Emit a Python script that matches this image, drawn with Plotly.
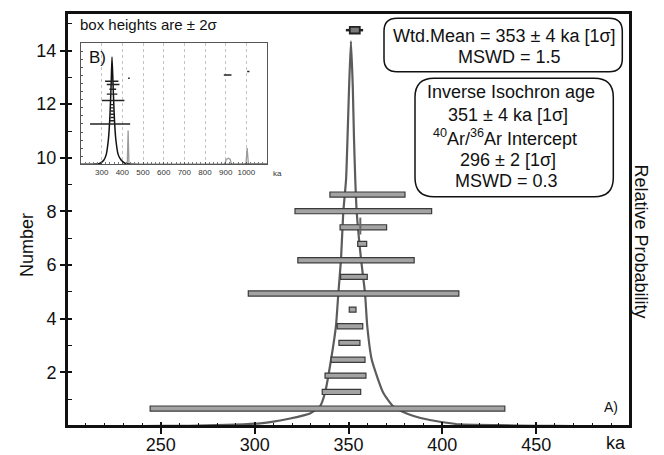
import plotly.graph_objects as go

# ---------------- data ----------------
# main panel: age boxes (ka), lower/upper ends and rank position
box_lo = [244.3, 336.0, 337.5, 340.7, 344.9, 344.0, 350.4, 296.6, 345.8, 323.0, 354.9, 345.5, 321.5, 340.1]
box_hi = [433.3, 356.5, 359.3, 358.8, 356.1, 357.6, 354.0, 408.8, 360.0, 385.0, 359.7, 370.3, 394.3, 380.1]
box_y = [0.65, 1.27, 1.88, 2.47, 3.10, 3.72, 4.34, 4.94, 5.56, 6.18, 6.79, 7.41, 8.01, 8.63]

# weighted mean marker (box + whiskers)
wm_box = [350.7, 356.0]
wm_whisk = [348.6, 357.8]
wm_y = 14.76

# small vertical mark near box 12
mark_x = [356.3, 356.3]
mark_y = [7.14, 7.77]

# relative probability curve
curve_x = [200, 240, 265, 285, 302.9, 310, 318.9, 329.5, 334.8, 337.5, 340.7, 343.3, 344.6, 346.0,
           347.2, 348.7, 349.5, 350.3, 351.3, 352.3, 352.9, 353.6, 354.4, 356.7, 358.8, 360.0,
           362.4, 368.5, 373.9, 381.0, 391.6, 402.3, 409, 430, 450, 470, 500]
curve_y = [0.0, 0.0, 0.01, 0.04, 0.10, 0.16, 0.28, 0.47, 0.73, 1.24, 2.47, 3.72, 4.96, 6.21,
           7.95, 9.19, 10.8, 12.6, 14.35, 12.6, 10.8, 9.19, 7.95, 6.21, 4.96, 3.72,
           2.47, 1.24, 0.73, 0.47, 0.25, 0.12, 0.06, 0.03, 0.01, 0.0, 0.0]

x_ticks = [250, 300, 350, 400, 450]
y_ticks = [2, 4, 6, 8, 10, 12, 14]

# inset B
in_lo = [243.7, 300.5, 324.8, 337.6, 324.8, 316.5, 340, 342, 341, 343, 342, 344]
in_hi = [437.9, 410.0, 376.0, 370.0, 386.0, 381.0, 362, 361, 360, 359, 358, 357]
in_y = [5.0, 7.9, 8.7, 9.3, 9.9, 10.3, 5.4, 5.8, 6.2, 6.6, 7.0, 7.4]
out_lo = [428, 891, 1004]
out_hi = [436, 928, 1015]
out_y = [10.66, 11.07, 11.5]
in_curve_x = [200, 250, 290, 310, 322, 333, 340, 346, 350, 355, 361, 368, 380, 395, 415, 450, 1100]
in_curve_y = [0, 0, 0.1, 0.5, 1.2, 3.2, 6.0, 10.0, 13.3, 10.0, 6.0, 3.2, 1.2, 0.5, 0.1, 0, 0]
in_gray_x = [424, 428, 432, None, 895, 903, 913, 922, 928, None, 998, 1004, 1010]
in_gray_y = [0, 4.2, 0, None, 0, 0.6, 0.75, 0.6, 0, None, 0, 2.0, 0]
in_ticks = [300, 400, 500, 600, 700, 800, 900, 1000]

FONT = "Liberation Sans, Arial, sans-serif"

# ---------------- geometry helpers (pixels -> paper) ----------------
L, R, T, B = 67, 34, 13, 29
W, H = 664, 455
PW, PH = W - L - R, H - T - B


def px(x):
    return (x - L) / PW


def py(y):
    return (H - B - y) / PH


def rrect(x0, y0, x1, y1, r):
    pts = [
        ("M", x0 + r, y0), ("L", x1 - r, y0), ("Q", x1, y0, x1, y0 + r),
        ("L", x1, y1 - r), ("Q", x1, y1, x1 - r, y1), ("L", x0 + r, y1),
        ("Q", x0, y1, x0, y1 - r), ("L", x0, y0 + r), ("Q", x0, y0, x0 + r, y0),
    ]
    s = ""
    for p in pts:
        cmd = p[0]
        coords = p[1:]
        parts = []
        for i in range(0, len(coords), 2):
            parts.append(f"{px(coords[i]):.5f},{py(coords[i+1]):.5f}")
        s += cmd + " " + " ".join(parts) + " "
    return s + "Z"


fig = go.Figure()

# curve on base axes (drawn below the boxes)
fig.add_trace(go.Scatter(x=curve_x, y=curve_y, mode="lines",
                         line=dict(color="#5c5c5c", width=2.2, shape="spline", smoothing=0.5),
                         xaxis="x", yaxis="y", showlegend=False, hoverinfo="skip"))

# boxes on overlay axes (on top)
fig.add_trace(go.Bar(orientation="h", y=box_y, base=box_lo,
                     x=[h - l for l, h in zip(box_lo, box_hi)], width=0.19,
                     marker=dict(color="#a3a3a3", line=dict(color="#3a3a3a", width=1.2)),
                     xaxis="x3", yaxis="y3", showlegend=False, hoverinfo="skip"))

# weighted mean
whisk_x = [wm_whisk[0], wm_box[0], None, wm_box[1], wm_whisk[1]]
whisk_y = [wm_y, wm_y, None, wm_y, wm_y]
fig.add_trace(go.Scatter(x=whisk_x, y=whisk_y, mode="lines", line=dict(color="#222", width=2.5),
                         xaxis="x3", yaxis="y3", showlegend=False, hoverinfo="skip"))
fig.add_trace(go.Bar(orientation="h", y=[wm_y], base=[wm_box[0]], x=[wm_box[1] - wm_box[0]], width=0.25,
                     marker=dict(color="#7a7a7a", line=dict(color="#222", width=1.8)),
                     xaxis="x3", yaxis="y3", showlegend=False, hoverinfo="skip"))
fig.add_trace(go.Scatter(x=mark_x, y=mark_y, mode="lines", line=dict(color="#666", width=2),
                         xaxis="x3", yaxis="y3", showlegend=False, hoverinfo="skip"))

# inset
fig.add_trace(go.Scatter(x=in_gray_x, y=in_gray_y, mode="lines", line=dict(color="#9a9a9a", width=1.3),
                         xaxis="x2", yaxis="y2", showlegend=False, hoverinfo="skip"))
fig.add_trace(go.Scatter(x=in_curve_x, y=in_curve_y, mode="lines",
                         line=dict(color="#111", width=1.5, shape="spline", smoothing=0.6),
                         xaxis="x2", yaxis="y2", showlegend=False, hoverinfo="skip"))
seg_x, seg_y = [], []
for l, h, y in zip(in_lo + out_lo, in_hi + out_hi, in_y + out_y):
    seg_x += [l, h, None]
    seg_y += [y, y, None]
fig.add_trace(go.Scatter(x=seg_x, y=seg_y, mode="lines", line=dict(color="#222", width=1.4),
                         xaxis="x2", yaxis="y2", showlegend=False, hoverinfo="skip"))

axis_common = dict(showgrid=False, zeroline=False, fixedrange=True)

fig.update_layout(
    width=W, height=H,
    margin=dict(l=L, r=R, t=T, b=B, autoexpand=False),
    paper_bgcolor="white", plot_bgcolor="white",
    barmode="overlay",
    font=dict(family=FONT, size=18, color="#111"),
    xaxis=dict(range=[200, 500], tickvals=x_ticks, ticks="outside", ticklen=6, tickwidth=1.5,
               tickcolor="#111", showline=True, linecolor="#111", linewidth=2, mirror=True,
               tickfont=dict(size=18), automargin=False, ticklabelstandoff=-5,
               minor=dict(dtick=10, tick0=200, ticks="inside", ticklen=3, tickcolor="#111", tickwidth=1.2),
               domain=[0, 1], **axis_common),
    yaxis=dict(range=[0, 15.4], tickvals=y_ticks, ticks="outside", ticklen=5,
               tickwidth=1.5, tickcolor="#111", showline=True, linecolor="#111", linewidth=2, mirror=True,
               tickfont=dict(size=18), automargin=False,
               minor=dict(dtick=1, tick0=0, ticks="inside", ticklen=5, tickcolor="#111", tickwidth=1.2),
               domain=[0, 1], **axis_common),
    xaxis3=dict(overlaying="x", anchor="y3", range=[200, 500], tickvals=x_ticks, ticks="inside",
                ticklen=4, tickwidth=1.5, tickcolor="#111", showticklabels=False, showline=False,
                **axis_common),
    yaxis3=dict(overlaying="y", anchor="x3", range=[0, 15.4], tickvals=y_ticks, ticks="inside",
                ticklen=5, tickwidth=1.5, tickcolor="#111", showticklabels=False, showline=False,
                **axis_common),
    xaxis2=dict(domain=[px(81), px(267)], anchor="y2", range=[200, 1100], tickvals=in_ticks,
                ticks="inside", ticklen=2, tickcolor="#555", tickfont=dict(size=8, color="#333"),
                showline=True, linecolor="#555", linewidth=1, mirror=True,
                minor=dict(dtick=20, ticks="inside", ticklen=2, tickcolor="#777"),
                showgrid=True, gridcolor="#c4c4c4", griddash="dot", gridwidth=1,
                zeroline=False, fixedrange=True, automargin=False),
    yaxis2=dict(domain=[py(164.3), py(43.3)], anchor="x2", range=[0, 15], dtick=1, ticks="inside",
                ticklen=2, tickcolor="#555", showticklabels=False,
                showline=True, linecolor="#555", linewidth=1, mirror=True,
                zeroline=False, showgrid=False, fixedrange=True, automargin=False),
)

shapes = [
    dict(type="rect", x0=0, x1=1, y0=0, y1=1, xref="paper", yref="paper",
         line=dict(color="#111", width=2), fillcolor="rgba(0,0,0,0)", layer="above"),
    dict(type="path", path=rrect(384, 18.3, 622.3, 71.7, 13), xref="paper", yref="paper",
         line=dict(color="#111", width=1.5), fillcolor="white", layer="above"),
    dict(type="path", path=rrect(415, 78.3, 613.3, 196.7, 19), xref="paper", yref="paper",
         line=dict(color="#111", width=1.5), fillcolor="white", layer="above"),
]
fig.update_layout(shapes=shapes)


def ann(text, x, y, size=18, xanchor="center", yanchor="middle", angle=0, color="#111"):
    return dict(text=text, x=px(x), y=py(y), xref="paper", yref="paper", showarrow=False,
                xanchor=xanchor, yanchor=yanchor, textangle=angle,
                font=dict(family=FONT, size=size, color=color))


annotations = [
    ann("box heights are ± 2σ", 78.3, 25, size=15, xanchor="left"),
    ann("B)", 86.7, 57, size=17, xanchor="left"),
    ann("ka", 271, 173.3, size=8, xanchor="left", color="#333"),
    ann("Wtd.Mean = 353 ± 4 ka [1σ]", 504, 36),
    ann("MSWD = 1.5", 509, 56.7),
    ann("Inverse Isochron age", 511, 91.7),
    ann("351 ± 4 ka [1σ]", 508, 115),
    ann("<sup>40</sup>Ar/<sup>36</sup>Ar Intercept", 505, 137),
    ann("296 ± 2 [1σ]", 508, 160),
    ann("MSWD = 0.3", 506, 180.5),
    ann("Number", 27, 245, angle=-90),
    ann("Relative Probability", 641, 241.5, angle=90),
    ann("ka", 615.7, 442.5),
    ann("A)", 610.7, 407.3, size=14),
]
fig.update_layout(annotations=annotations)

fig.write_html("out.html", config={"displayModeBar": False},
               post_script="document.body.style.margin='0';document.body.style.overflow='hidden';")
